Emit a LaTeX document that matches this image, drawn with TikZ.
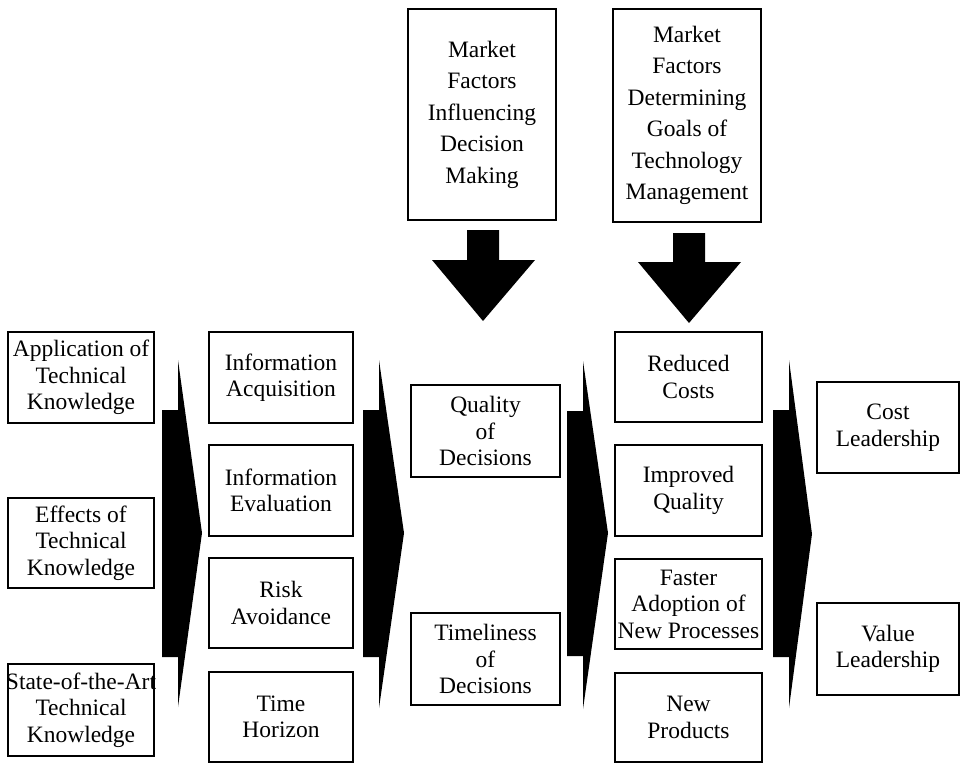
\documentclass[tikz,border=0pt]{standalone}
\usepackage{fontspec}
\setmainfont{Liberation Serif}
\begin{document}
\begin{tikzpicture}[x=1pt,y=-1pt,
  box/.style={draw=black,line width=2.6pt,align=center,inner sep=0pt,fill=white,
    font=\fontsize{23.5}{26.5}\selectfont},
  topbox/.style={box,font=\fontsize{23.5}{31.5}\selectfont},
  blockarrow/.style={fill=black,draw=none}]
\useasboundingbox (0,0) rectangle (961,763);
\newcommand{\bx}[7]{%
 \pgfmathsetmacro\cxa{(#3+#5)/2}\pgfmathsetmacro\cya{(#4+#6)/2}%
 \pgfmathsetmacro\wa{#5-#3}\pgfmathsetmacro\ha{#6-#4}%
 \node[#2,minimum width=\wa pt,minimum height=\ha pt] (#1) at (\cxa,\cya) {#7};}
% top boxes
\bx{mfi}{topbox}{408}{9}{556}{220}{Market\\Factors\\Influencing\\Decision\\Making}
\bx{mfd}{topbox}{613}{9}{761}{222}{Market\\Factors\\Determining\\Goals of\\Technology\\Management}
% left column
\bx{l1}{box}{8}{332}{154}{423}{Application of\\Technical\\Knowledge}
\bx{l2}{box}{8}{498}{154}{588}{Effects of\\Technical\\Knowledge}
\bx{l3}{box}{8}{664}{154}{756}{\makebox[0pt]{State-of-the-Art}\\Technical\\Knowledge}
% second column
\bx{c1}{box}{209}{332}{353}{423}{Information\\Acquisition}
\bx{c2}{box}{209}{445}{353}{536}{Information\\Evaluation}
\bx{c3}{box}{209}{558}{353}{648}{Risk\\Avoidance}
\bx{c4}{box}{209}{672}{353}{762}{Time\\Horizon}
% third column
\bx{q}{box}{411}{385}{560}{477}{Quality\\of\\Decisions}
\bx{t}{box}{411}{613}{560}{705}{Timeliness\\of\\Decisions}
% fourth column
\bx{r1}{box}{615}{332}{762}{422}{Reduced\\Costs}
\bx{r2}{box}{615}{445}{762}{536}{Improved\\Quality}
\bx{r3}{box}{615}{559}{762}{649}{Faster\\Adoption of\\\makebox[0pt]{New Processes}}
\bx{r4}{box}{615}{673}{762}{762}{New\\Products}
% fifth column
\bx{cl}{box}{817}{382}{959}{473}{Cost\\Leadership}
\bx{vl}{box}{817}{603}{959}{695}{Value\\Leadership}
% right-pointing block arrows
\fill[blockarrow] (162,410) -- (178,410) -- (178,360) -- (202,533) -- (178,707) -- (178,657) -- (162,657) -- cycle;
\fill[blockarrow] (363,410) -- (379,410) -- (379,360) -- (404,533) -- (379,708) -- (379,657) -- (363,657) -- cycle;
\fill[blockarrow] (567,411) -- (583,411) -- (583,361) -- (608,533) -- (583,709) -- (583,656) -- (567,656) -- cycle;
\fill[blockarrow] (773,410) -- (789,410) -- (789,360) -- (812,534) -- (789,708) -- (789,657) -- (773,657) -- cycle;
% downward block arrows
\fill[blockarrow] (467,230) -- (499,230) -- (499,260) -- (535,260) -- (483,321) -- (432,260) -- (467,260) -- cycle;
\fill[blockarrow] (673,233) -- (705,233) -- (705,262) -- (741,262) -- (689,323) -- (638,262) -- (673,262) -- cycle;
\end{tikzpicture}
\end{document}
